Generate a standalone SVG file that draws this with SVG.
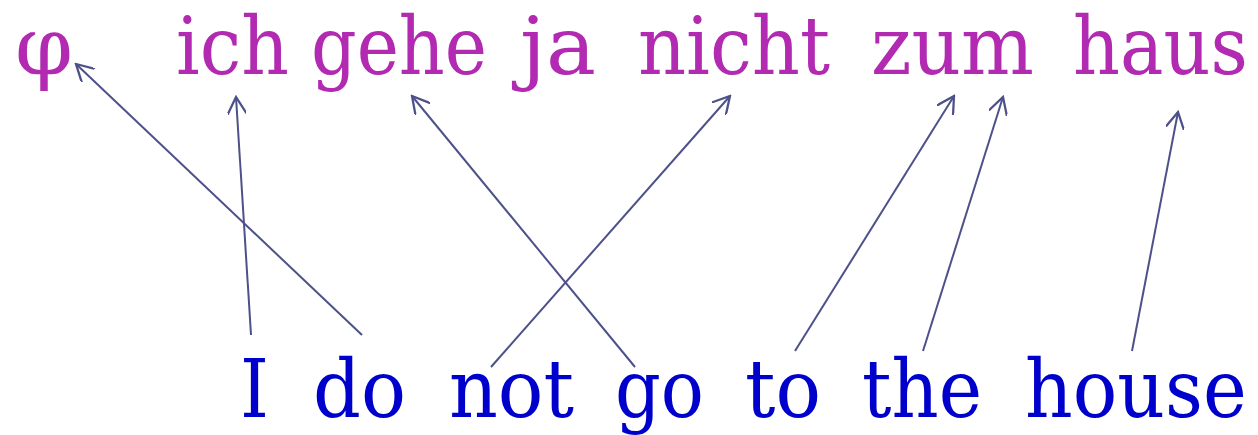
<svg xmlns="http://www.w3.org/2000/svg" width="1258" height="435" viewBox="0 0 1258 435">
<style>
.de,.en{font-family:"DejaVu Serif",serif;font-size:81px}
.de{fill:#b12ab1}
.en{fill:#0000cc}
.c line{stroke:#4d5189;stroke-width:2;fill:none;marker-end:url(#ah)}
</style>
<defs>
<marker id="ah" viewBox="0 0 10 10" refX="9" refY="5" markerWidth="19" markerHeight="19" markerUnits="userSpaceOnUse" orient="auto">
<path d="M0,0 L9,5 L0,10" fill="none" stroke="#4d5189" stroke-width="1.2"/>
</marker>
</defs>
<g id="top">
<g id="t-phi"><text class="de" x="15" y="74" textLength="58" lengthAdjust="spacingAndGlyphs">φ</text></g>
<g id="t-ich"><text class="de" x="176" y="74" textLength="113" lengthAdjust="spacingAndGlyphs">ich</text></g>
<g id="t-gehe"><text class="de" x="311" y="74" textLength="176" lengthAdjust="spacingAndGlyphs">gehe</text></g>
<g id="t-ja"><text class="de" x="520" y="74" textLength="76" lengthAdjust="spacingAndGlyphs">ja</text></g>
<g id="t-nicht"><text class="de" x="638" y="74" textLength="192" lengthAdjust="spacingAndGlyphs">nicht</text></g>
<g id="t-zum"><text class="de" x="871" y="74" textLength="163" lengthAdjust="spacingAndGlyphs">zum</text></g>
<g id="t-haus"><text class="de" transform="translate(1073,74) scale(0.901,1)">haus</text></g>
</g>
<g id="bottom">
<g id="b-I"><text class="en" x="240" y="417" textLength="29" lengthAdjust="spacingAndGlyphs">I</text></g>
<g id="b-do"><text class="en" x="313" y="417" textLength="93" lengthAdjust="spacingAndGlyphs">do</text></g>
<g id="b-not"><text class="en" x="449" y="417" textLength="125" lengthAdjust="spacingAndGlyphs">not</text></g>
<g id="b-go"><text class="en" x="615" y="417" textLength="89" lengthAdjust="spacingAndGlyphs">go</text></g>
<g id="b-to"><text class="en" x="745" y="417" textLength="76" lengthAdjust="spacingAndGlyphs">to</text></g>
<g id="b-the"><text class="en" x="862" y="417" textLength="120" lengthAdjust="spacingAndGlyphs">the</text></g>
<g id="b-house"><text class="en" transform="translate(1025,417) scale(0.914,1)">house</text></g>
</g>
<g id="connectors" class="c">
<line x1="362" y1="335" x2="76" y2="64"/>
<line x1="251" y1="335" x2="236" y2="97"/>
<line x1="635" y1="367" x2="412" y2="96"/>
<line x1="491" y1="367" x2="730" y2="96"/>
<line x1="795" y1="351" x2="954" y2="96"/>
<line x1="923" y1="351" x2="1003" y2="97"/>
<line x1="1132" y1="351" x2="1178" y2="112"/>
</g>
</svg>
